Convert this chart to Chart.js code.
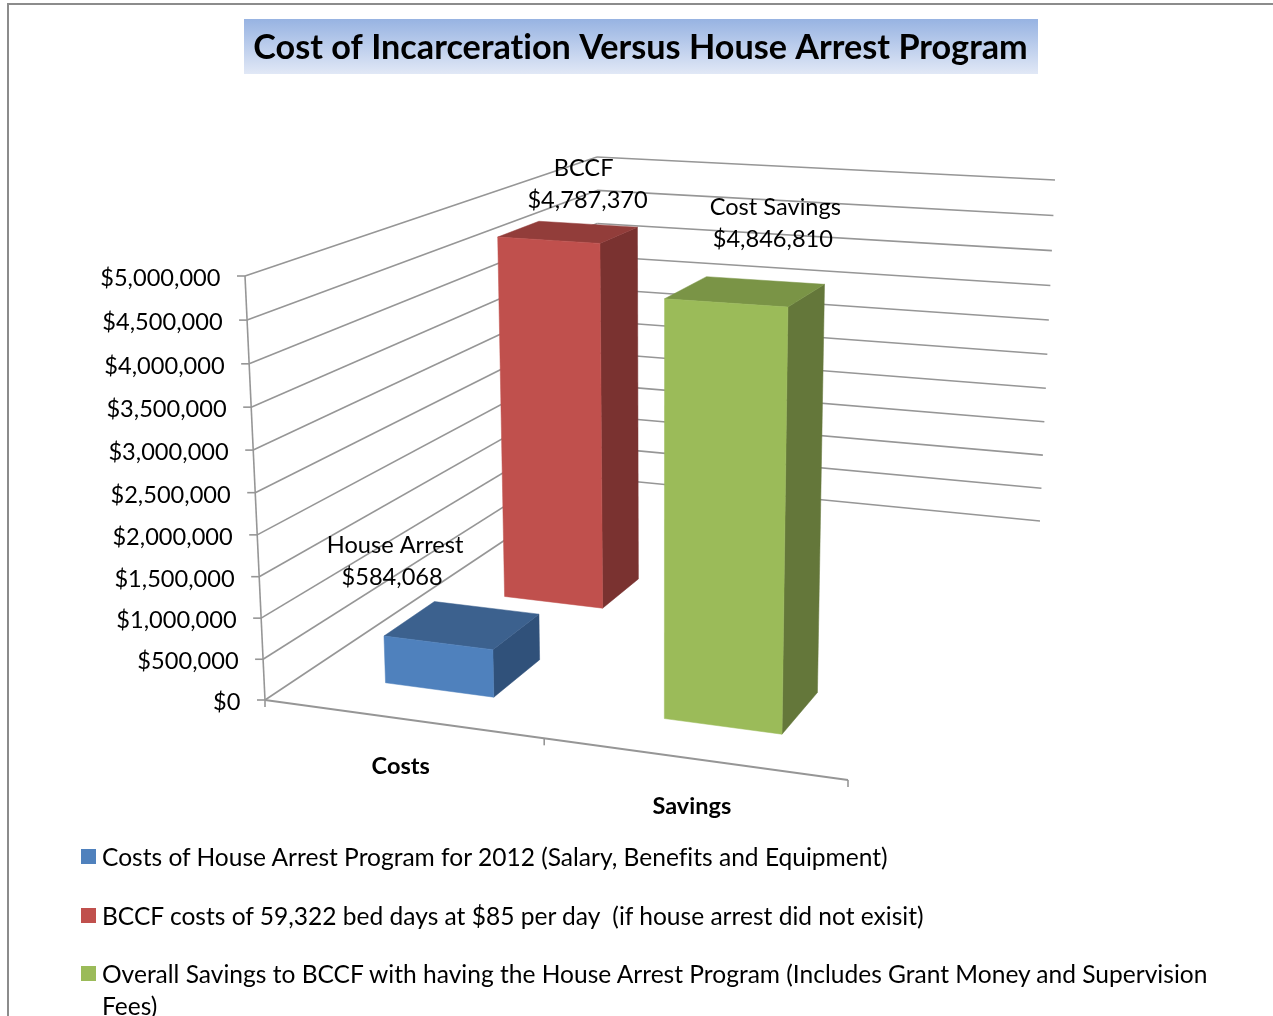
<!DOCTYPE html>
<html>
<head>
<meta charset="utf-8">
<title>Cost of Incarceration Versus House Arrest Program</title>
<script src="https://cdn.jsdelivr.net/npm/chart.js@4"></script>
<style>
html,body{margin:0;padding:0;background:#fff;width:1273px;height:1016px;overflow:hidden}
#wrap{position:absolute;left:0;top:0;width:1273px;height:1016px}
#legend{position:absolute;left:0;top:0;font-family:Lato,sans-serif;color:#000}
.row{position:absolute;left:102px;width:1130px;font-size:24.55px;line-height:32px;font-variant-ligatures:none;white-space:pre-wrap}
.sw{position:absolute;left:-21px;top:8px;width:15px;height:15px}
</style>
</head>
<body>
<div id="wrap"><canvas id="c" width="1273" height="1016"></canvas><div id="legend"></div></div>
<script>
const chartTitle = 'Cost of Incarceration Versus House Arrest Program';
const categories = ['Costs', 'Savings'];
const seriesNames = ['House Arrest', 'BCCF', 'Cost Savings'];
const houseArrest = [584068, null];
const bccf = [4787370, null];
const costSavings = [null, 4846810];
const legendTexts = [
  'Costs of House Arrest Program for 2012 (Salary, Benefits and Equipment)',
  'BCCF costs of 59,322 bed days at $85 per day  (if house arrest did not exisit)',
  'Overall Savings to BCCF with having the House Arrest Program (Includes Grant Money and Supervision Fees)'
];
const frontColors = ['#4f81bd', '#c0504d', '#9bbb59'];
const topColors = ['#3c618e', '#923d3a', '#7a9446'];
const sideColors = ['#30517a', '#7a3230', '#64773a'];
const depthRows = [[0.125, 0.285], [0.505, 0.63], [0.13, 0.295]];
const labelOffsets = [[[-67,-80],[-70,-48]], [[15.5,-64],[19.5,-32]], [[30,-84],[27.5,-52]]];
const legendTops = [841, 900, 958];

const FONT = 'Lato, sans-serif';
const GRID = '#969696';
// screen corners of the 3D box: [u][v][w]
const CORNERS = {
  A:[265,700], B:[848,780], C:[598,478], D:[1040,521],
  E:[245,276], F:[858,317], G:[597,157], H:[1055,180]
};
const persp = (t, r) => t / (t + r * (1 - t));
const lerp = (a, b, t) => [a[0] + (b[0]-a[0]) * t, a[1] + (b[1]-a[1]) * t];
function project(u, v, w) {
  const uu = persp(u, 1.088), ww = persp(w, 1.045), K = CORNERS;
  const bottom = lerp(lerp(K.A, K.B, uu), lerp(K.C, K.D, uu), v);
  const top = lerp(lerp(K.E, K.F, uu), lerp(K.G, K.H, uu), v);
  return lerp(bottom, top, ww);
}
function line(ctx, a, b, color, width) {
  ctx.strokeStyle = color || GRID; ctx.lineWidth = width || 1.6;
  ctx.beginPath(); ctx.moveTo(a[0], a[1]); ctx.lineTo(b[0], b[1]); ctx.stroke();
}
function face(ctx, pts, color) {
  ctx.fillStyle = color; ctx.strokeStyle = color; ctx.lineWidth = 0.5;
  ctx.beginPath(); pts.forEach((p, i) => i ? ctx.lineTo(p[0], p[1]) : ctx.moveTo(p[0], p[1]));
  ctx.closePath(); ctx.fill(); ctx.stroke();
}

const box3d = {
  id: 'box3d',
  beforeDraw(chart) {
    const ctx = chart.ctx;
    ctx.letterSpacing = '0.01px';
    ctx.save();
    ctx.fillStyle = '#fff'; ctx.fillRect(0, 0, chart.width, chart.height);
    ctx.strokeStyle = '#8c8c8c'; ctx.lineWidth = 2;
    ctx.beginPath(); ctx.moveTo(8, chart.height + 2); ctx.lineTo(8, 4); ctx.lineTo(chart.width + 2, 4); ctx.stroke();
    const g = ctx.createLinearGradient(0, 19, 0, 74);
    g.addColorStop(0, '#97b3e2'); g.addColorStop(1, '#e1e8f6');
    ctx.fillStyle = g; ctx.fillRect(244, 19, 794, 55);
    ctx.restore();
  },
  beforeDatasetsDraw(chart) {
    const ctx = chart.ctx, area = chart.chartArea, ys = chart.scales.y, xs = chart.scales.x;
    const normU = px => (px - area.left) / (area.right - area.left);
    const normW = py => (area.bottom - py) / (area.bottom - area.top);
    ctx.save();
    ctx.lineCap = 'butt';
    // walls
    ys.ticks.forEach(t => {
      const w = normW(ys.getPixelForValue(t.value));
      line(ctx, project(0, 0, w), project(0, 1, w));
      line(ctx, project(0, 1, w), project(1, 1, w));
    });
    line(ctx, project(0, 0, 0), project(0, 0, 1));
    line(ctx, project(0, 0, 0), project(1, 0, 0), GRID, 1.8);
    // axis ticks and labels
    ctx.fillStyle = '#000'; ctx.textBaseline = 'middle';
    ctx.font = '23.6px ' + FONT; ctx.textAlign = 'right';
    ys.ticks.forEach(t => {
      const p = project(0, 0, normW(ys.getPixelForValue(t.value)));
      line(ctx, p, [p[0] - 8, p[1]]);
      ctx.fillStyle = '#000';
      ctx.fillText(t.label, p[0] - 24.5, p[1] + 2.5);
    });
    [0, 0.5, 1].forEach(u => {
      const p = project(u, 0, 0);
      line(ctx, p, [p[0], p[1] + 7]);
    });
    ctx.font = 'bold 23.5px ' + FONT; ctx.textAlign = 'center';
    categories.forEach((c, i) => {
      const p = project(normU(xs.getPixelForValue(i)), 0, 0);
      ctx.fillStyle = '#000';
      ctx.fillText(xs.getLabelForValue(i), p[0] - 1, p[1] + 48);
    });
    // bars, far row first
    const order = chart.data.datasets.map((d, i) => i).sort((a, b) => depthRows[b][0] - depthRows[a][0]);
    const tops = [];
    order.forEach(di => {
      const meta = chart.getDatasetMeta(di), ds = chart.data.datasets[di];
      meta.data.forEach((el, i) => {
        if (ds.data[i] == null) return;
        const l = normU(el.x - el.width / 2), r = normU(el.x + el.width / 2);
        const h = normW(el.y), [v0, v1] = depthRows[di];
        face(ctx, [project(r,v0,0), project(r,v1,0), project(r,v1,h), project(r,v0,h)], sideColors[di]);
        face(ctx, [project(l,v0,h), project(r,v0,h), project(r,v1,h), project(l,v1,h)], topColors[di]);
        face(ctx, [project(l,v0,0), project(r,v0,0), project(r,v0,h), project(l,v0,h)], frontColors[di]);
        tops.push({di, i, p: project((l + r) / 2, (v0 + v1) / 2, h)});
      });
    });
    // data labels
    ctx.fillStyle = '#000'; ctx.font = '23.6px ' + FONT; ctx.textAlign = 'center';
    tops.forEach(({di, i, p}) => {
      const ds = chart.data.datasets[di], off = labelOffsets[di];
      ctx.fillText(ds.label, p[0] + off[0][0], p[1] + off[0][1]);
      ctx.fillText('$' + ds.data[i].toLocaleString('en-US'), p[0] + off[1][0], p[1] + off[1][1]);
    });
    ctx.restore();
    return false;
  }
};

const mk = (i, data) => ({ label: seriesNames[i], data, backgroundColor: frontColors[i] });
const chart = new Chart(document.getElementById('c'), {
  type: 'bar',
  data: { labels: categories, datasets: [mk(0, houseArrest), mk(1, bccf), mk(2, costSavings)] },
  options: {
    responsive: false, animation: false, events: [],
    layout: { padding: { left: 8, top: 0, right: 0, bottom: 0 } },
    datasets: { bar: { grouped: false, barPercentage: 0.4, categoryPercentage: 1 } },
    plugins: {
      legend: { display: false }, tooltip: { enabled: false },
      title: { display: true, text: chartTitle, color: '#000',
        font: { family: FONT, size: 34.2, weight: 'bold' }, padding: { top: 27, bottom: 30 } }
    },
    scales: {
      x: { grid: { display: false }, border: { display: false }, ticks: { display: false } },
      y: { min: 0, max: 5000000, grid: { display: false }, border: { display: false },
        ticks: { display: false, stepSize: 500000, callback: v => '$' + Number(v).toLocaleString('en-US') } }
    }
  },
  plugins: [box3d]
});
const lg = document.getElementById('legend');
chart.data.datasets.forEach((ds, i) => {
  const r = document.createElement('div'); r.className = 'row'; r.style.top = legendTops[i] + 'px';
  r.textContent = legendTexts[i];
  const s = document.createElement('span'); s.className = 'sw'; s.style.background = ds.backgroundColor;
  r.appendChild(s); lg.appendChild(r);
});
</script>
</body>
</html>
